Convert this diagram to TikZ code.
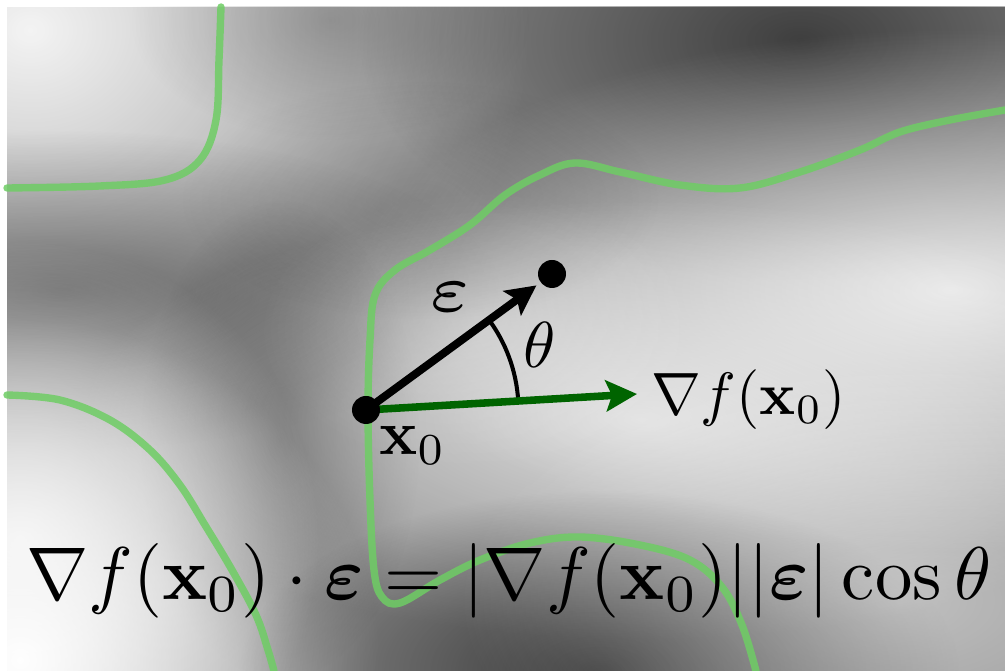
\documentclass[tikz,border=0pt]{standalone}
\usepackage{amsmath}
\usepackage{bm}
\usetikzlibrary{arrows.meta,calc,fadings,backgrounds}
\definecolor{gradgreen}{RGB}{0,100,0}
\definecolor{levelgreen}{RGB}{110,205,100}
\definecolor{fieldgrey}{RGB}{140,140,140}
\tikzfading[name=blobfade, inner color=transparent!0, outer color=transparent!100]

\begin{document}
\begin{tikzpicture}[x=0.02cm, y=-0.02cm,
  every node/.style={inner sep=0pt},
  blob/.style={path fading=blobfade},
  level/.style={levelgreen, opacity=0.85, line width=4.2pt, line cap=round, line join=round},
  dot/.style={circle, fill=black, minimum size=5.6mm},
  evec/.style={-{Stealth[length=6mm,width=6mm,inset=1.2mm]}, line width=4.5pt, black},
  gvec/.style={-{Stealth[length=6.2mm,width=6.2mm,inset=1.2mm]}, line width=4.3pt, gradgreen},
  anglearc/.style={black, line width=2.3pt},
  big/.style={scale=#1, transform shape}]
\useasboundingbox (0,0) rectangle (1005,671);

% points and labels
\node[dot] (x0) at (366,410) {};
\node[dot] (xe) at (552,274) {};
\coordinate (gtip) at (637,394);
\node[big=7.6] (elbl) at (450,297) {$\scriptscriptstyle\varepsilon$};
\node[big=3.7] (thlbl) at (540,345) {$\theta$};
\node[big=3.6, anchor=base west] (x0lbl) at (378,455) {$\mathbf{x}_0$};
\node[big=3.4, anchor=base west] (grad) at (650,415) {$\nabla f(\mathbf{x}_0)$};
\node[big=4.25, anchor=base] (dotprod) at (509,600)
  {$\nabla f(\mathbf{x}_0)\cdot\bm{\varepsilon} = |\nabla f(\mathbf{x}_0)||\bm{\varepsilon}|\cos\theta$};

\begin{scope}[on background layer]
\fill[white] (0,0) rectangle (1005,671);
\fill[fieldgrey] (7,7) rectangle (1005,671);
% smooth field
\begin{scope}
\clip (7,7) rectangle (1005,671);
\foreach \cx/\cy/\rx/\ry/\c/\o in {
  30/30/500/420/white/0.9, 800/40/440/240/black/0.55, 60/290/440/160/black/0.4,
  280/440/140/240/black/0.4, 950/290/600/260/white/0.8, 640/420/560/220/white/0.7,
  20/660/360/340/white/1, 20/540/300/300/white/0.8, 600/671/360/180/black/0.6,
  900/600/440/240/white/0.45, 480/330/220/140/white/0.25, 330/20/200/120/black/0.2,
  420/200/240/120/black/0.15}
  \fill[\c, opacity=\o, blob] (\cx,\cy) ellipse [x radius=\rx, y radius=\ry];
\end{scope}
% level lines
\draw[level] plot[smooth, tension=0.6] coordinates {(221,7) (219,60) (216,120) (200,160) (165,180) (100,186) (7,188)};
\draw[level] plot[smooth, tension=0.6] coordinates {(1005,110) (950,120) (900,132) (860,150) (800,172) (740,188)
  (680,185) (620,172) (575,163) (540,175) (505,195) (470,225) (430,250) (395,270) (375,295) (370,340) (368,410)
  (370,500) (374,570) (382,597) (400,603) (440,580) (480,560) (530,543) (580,537) (640,545) (690,560) (722,587)
  (742,625) (756,671)};
\draw[level] plot[smooth, tension=0.6] coordinates {(7,395) (60,400) (110,420) (150,450) (180,485) (205,525)
  (232,570) (256,615) (268,650) (274,671)};
% angle and vectors
\draw[anglearc] ($(x0.center)+(-3.4:152.5)$) arc[start angle=-3.4, end angle=-37.1, radius=152.5];
\draw[gvec] (x0.center) -- (gtip);
\draw[evec, shorten >=0.1cm] (x0.center) -- (xe);
\end{scope}
\end{tikzpicture}
\end{document}
